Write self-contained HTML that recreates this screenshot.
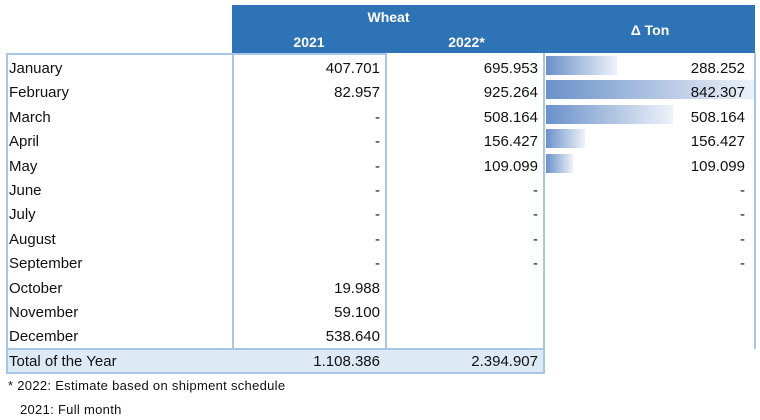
<!DOCTYPE html>
<html><head><style>
body{margin:0;width:760px;height:420px;background:#fff;font-family:"Liberation Sans",sans-serif;position:relative;overflow:hidden;color:#111}
div{position:absolute;box-sizing:border-box}
.h{background:#2e73b5;color:#fff;font-weight:bold;font-size:14px}
.t{font-size:15px;line-height:24px;height:24px}
.r{text-align:right}
.bar{height:19px;background:linear-gradient(to right,#6a91c9,#eef2f9)}
</style></head><body>
<div class="h" style="left:232px;top:5px;width:523px;height:48px"></div>
<div class="h" style="left:232px;top:9px;width:313px;text-align:center">Wheat</div>
<div class="h" style="left:232px;top:34px;width:154px;text-align:center">2021</div>
<div class="h" style="left:388px;top:34px;width:157px;text-align:center">2022*</div>
<div class="h" style="left:545px;top:22px;width:210px;text-align:center">Δ Ton</div>
<div style="left:6px;top:53px;width:227px;height:296px;border:2px solid #a9c6e8;border-right:none;border-bottom:none"></div>
<div style="left:232px;top:53px;width:155px;height:296px;border:2px solid #a9c6e8;border-bottom:none"></div>
<div style="left:387px;top:53px;width:158px;height:296px;border-right:2px solid #a9c6e8"></div>
<div style="left:543px;top:53px;width:213px;height:296px;border-right:2px solid #a9c6e8"></div>
<div style="left:6px;top:348px;width:539px;height:26px;background:#dde9f5;border:2px solid #a9c6e8"></div>
<div class="bar" style="left:546px;top:56px;width:71px"></div>
<div class="bar" style="left:546px;top:80px;width:208px"></div>
<div class="bar" style="left:546px;top:105px;width:127px"></div>
<div class="bar" style="left:546px;top:129px;width:39px"></div>
<div class="bar" style="left:546px;top:154px;width:27px"></div>
<div id="rows"></div>
<script>
var d=[["January","407.701","695.953","288.252"],["February","82.957","925.264","842.307"],["March","-","508.164","508.164"],["April","-","156.427","156.427"],["May","-","109.099","109.099"],["June","-","-","-"],["July","-","-","-"],["August","-","-","-"],["September","-","-","-"],["October","19.988","",""],["November","59.100","",""],["December","538.640","",""],["Total of the Year","1.108.386","2.394.907",""]];
var h="";d.forEach(function(r,i){var y=57+i*24.4;
h+='<div class="t" style="left:9px;top:'+y+'px">'+r[0]+'</div>';
h+='<div class="t r" style="left:232px;top:'+y+'px;width:148px">'+r[1]+'</div>';
h+='<div class="t r" style="left:388px;top:'+y+'px;width:150px">'+r[2]+'</div>';
h+='<div class="t r" style="left:545px;top:'+y+'px;width:200px">'+r[3]+'</div>';});
document.getElementById("rows").outerHTML=h;
</script>
<div style="left:8px;top:378px;font-size:13px;letter-spacing:0.3px">* 2022: Estimate based on shipment schedule</div>
<div style="left:20px;top:402px;font-size:13px;letter-spacing:0.3px">2021: Full month</div>
</body></html>
